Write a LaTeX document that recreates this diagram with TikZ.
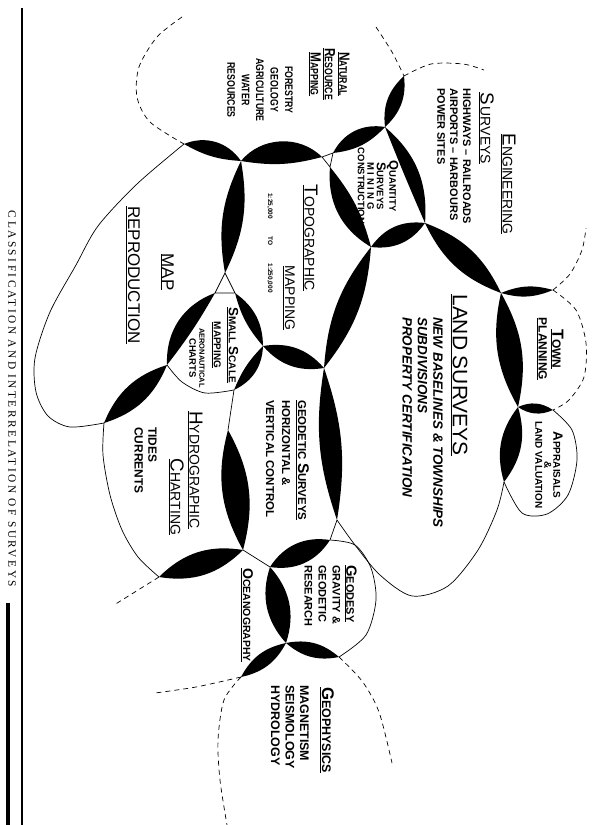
\documentclass[tikz,border=0pt]{standalone}
\usepackage{graphicx}
\usepackage{fontspec}
\setmainfont{Liberation Sans}
\newfontfamily\hand{Liberation Sans}[FakeStretch=0.8]
\newfontfamily\capfont{Liberation Serif}[LetterSpace=22]
\newcommand\initcap[2]{\scalebox{1.35}{#1}#2}
\begin{document}
\begin{tikzpicture}[x=1bp, y=-1bp,
    blob/.style={fill=black},
    rim/.style={line width=0.7bp},
    open rim/.style={line width=0.7bp, dash pattern=on 5bp off 4bp},
    lbl/.style={rotate=-90, inner sep=0pt, align=center, font=\bfseries\fontsize{11}{14}\selectfont},
    ttl/.style={rotate=-90, inner sep=0pt, align=center, font=\fontsize{14}{17}\selectfont}]
\useasboundingbox (0,0) rectangle (607,825);

\draw[line width=2bp] (22,8) -- (22,825);
\draw[line width=4bp] (8,603) -- (8,825);
\node[rotate=-90, font=\capfont\fontsize{11.4}{12}\selectfont] (caption) at (12,399) {CLASSIFICATION AND INTERRELATION OF SURVEYS};

\coordinate (nm) at (184,144);
\coordinate (nmt) at (241,161);
\coordinate (nt) at (322,157);
\coordinate (nq) at (333,153);
\coordinate (tq) at (330,167);
\coordinate (nqe) at (385,127);
\coordinate (ne) at (404,76);
\coordinate (qel) at (425,223);
\coordinate (qtl) at (371,247);
\coordinate (elt) at (501,293);
\coordinate (et) at (553,290);
\coordinate (lta) at (518,407);
\coordinate (ta) at (553,410);
\coordinate (la) at (504,482);
\coordinate (mts) at (225,273);
\coordinate (ms) at (215,293);
\coordinate (ts) at (235,293);
\coordinate (tsg) at (263,346);
\coordinate (tlg) at (324,368);
\coordinate (msh) at (167,365);
\coordinate (mh) at (104,423);
\coordinate (sgh) at (234,390);
\coordinate (gh) at (228,430);
\coordinate (gho) at (243,550);
\coordinate (glg) at (337,520);
\coordinate (gdl) at (330,540);
\coordinate (god) at (270,567);
\coordinate (odp) at (286,643);
\coordinate (dp) at (339,657);
\coordinate (ho) at (159,577);
\coordinate (op) at (241,677);

\draw[open rim] plot[smooth] coordinates {(182,17) (157,37) (139,67) (137,97) (150,122) (nm)};
\draw[open rim] plot[smooth] coordinates {(376,27) (392,52) (ne)};
\draw[open rim] plot[smooth] coordinates {(ne) (431,64) (463,64) (484,70)};
\draw[open rim] plot[smooth] coordinates {(et) (570,274) (582,250) (586,228)};
\draw[open rim] plot[smooth] coordinates {(et) (576,310) (586,343) (584,377) (569,400) (ta)};
\draw[rim] plot[smooth] coordinates {(ta) (572,430) (577,460) (568,495) (547,514) (522,513) (la)};
\draw[rim] plot[smooth] coordinates {(glg) (355,545) (380,575) (412,596) (448,586) (478,550) (497,510) (la)};
\draw[rim] plot[smooth] coordinates {(gdl) (355,545) (371,568) (376,600) (366,635) (dp)};
\draw[rim] plot[smooth] coordinates {(nm) (137,184) (98,226) (76,265) (50,312) (35,358) (36,392) (48,416) (70,427) (mh)};
\draw[rim] plot[smooth] coordinates {(mh) (103,455) (110,495) (122,530) (138,557) (ho)};
\draw[rim] plot[smooth] coordinates {(msh) (182,382) (205,393) (sgh)};
\draw[rim] (sgh) -- (gh);
\draw[rim] (gho) -- (god);
\draw[rim] (glg) -- (gdl);
\draw[rim] (ms) -- (mts) -- (ts) -- cycle;
\draw[rim] (nt) -- (nq) -- (tq) -- cycle;
\draw[open rim] (ho) -- (114,605);
\draw[open rim] plot[smooth] coordinates {(op) (196,687) (155,693)};
\draw[open rim] plot[smooth] coordinates {(op) (224,700) (218,740) (220,780) (227,825)};
\draw[open rim] plot[smooth] coordinates {(dp) (362,681) (379,712) (392,763)};

\fill[blob] (nm) to[bend left=39] (nmt) to[bend left=13] (nm);
\fill[blob] (nmt) to[bend left=48] (nt) to[bend left=12] (nmt);
\fill[blob] (nqe) to[bend left=27] (ne) to[bend left=27] (nqe);
\fill[blob] (nq) to[bend left=36] (nqe) to[bend left=20] (nq);
\fill[blob] (nqe) to[bend left=27] (qel) to[bend left=1] (nqe);
\fill[blob] (tq) to[bend left=12] (qtl) to[bend left=32] (tq);
\fill[blob] (qtl) to[bend left=31] (qel) to[bend left=31] (qtl);
\fill[blob] (qel) to[bend left=22] (elt) to[bend left=22] (qel);
\fill[blob] (elt) to[bend left=19] (et) to[bend left=19] (elt);
\fill[blob] (elt) to[bend left=21] (lta) to[bend left=21] (elt);
\fill[blob] (lta) to[bend left=29] (ta) to[bend left=29] (lta);
\fill[blob] (lta) to[bend left=27] (la) to[bend left=27] (lta);
\fill[blob] (qtl) to[bend left=17] (tlg) to[bend left=17] (qtl);
\fill[blob] (nmt) to[bend left=18] (mts) to[bend left=18] (nmt);
\fill[blob] (ms) to[bend left=4] (msh) to[bend left=36] (ms);
\fill[blob] (ts) to[bend left=27] (tsg) to[bend left=13] (ts);
\fill[blob] (tsg) to[bend left=29] (tlg) to[bend left=29] (tsg);
\fill[blob] (tsg) to[bend left=31] (sgh) to[bend left=11] (tsg);
\fill[blob] (msh) to[bend left=25] (mh) to[bend left=25] (msh);
\fill[blob] (gh) to[bend left=22] (gho) to[bend left=22] (gh);
\fill[blob] (tlg) to[bend left=14] (glg) to[bend left=14] (tlg);
\fill[blob] (gdl) to[bend left=33] (god) to[bend left=33] (gdl);
\fill[blob] (gho) to[bend left=27] (ho) to[bend left=27] (gho);
\fill[blob] (god) to[bend left=30] (odp) to[bend left=30] (god);
\fill[blob] (odp) to[bend left=26] (dp) to[bend left=26] (odp);
\fill[blob] (odp) to[bend left=25] (op) to[bend left=25] (odp);

\node[lbl, font=\hand\bfseries\fontsize{11}{14.5}\selectfont] (natural) at (329,74) {\underline{\initcap{N}{ATURAL}}\\\underline{\initcap{R}{ESOURCE}}\\\underline{\initcap{M}{APPING}}};
\node[lbl, font=\hand\bfseries\fontsize{11}{14.5}\selectfont] (natural-list) at (260,90) {FORESTRY\\GEOLOGY\\AGRICULTURE\\WATER\\RESOURCES};
\node[ttl] (engineering) at (508,184) {\underline{\initcap{E}{NGINEERING}}};
\node[ttl] (eng-surveys) at (486,128) {\underline{\initcap{S}{\,URVEYS}}};
\node[lbl, align=left, anchor=north west, font=\bfseries\fontsize{11}{13}\selectfont] (eng-list) at (471,88) {HIGHWAYS -- RAILROADS\\AIRPORTS -- HARBOURS\\POWER SITES};
\node[lbl, font=\bfseries\fontsize{9.5}{9.5}\selectfont] (quantity) at (378,186) {\initcap{Q}{UANTITY}\\\initcap{S}{URVEYS}\\M I N I N G\\CONSTRUCTION};
\node[ttl] (topo) at (310,238) {\underline{\initcap{T}{OPOGRAPHIC}}};
\node[ttl] (topo-mapping) at (289,298) {\underline{MAPPING}};
\node[lbl, font=\bfseries\fontsize{6.5}{6.5}\selectfont] (scales) at (270,243) {1:25,000\hspace{18pt}TO\hspace{18pt}1:250,000};
\node[ttl, font=\fontsize{17}{20}\selectfont] (map) at (167,272) {\underline{MAP}};
\node[ttl, font=\fontsize{17}{20}\selectfont] (reproduction) at (133,275) {\underline{REPRODUCTION}};
\node[ttl, font=\fontsize{21}{24}\selectfont] (land) at (459,375) {\underline{LAND SURVEYS}};
\node[lbl, align=left, anchor=north west, font=\bfseries\itshape\fontsize{13.5}{15.5}\selectfont] (land-list) at (443,317) {NEW BASELINES \& TOWNSHIPS\\SUBDIVISIONS\\PROPERTY CERTIFICATION};
\node[lbl, font=\bfseries\fontsize{12}{14}\selectfont] (town) at (550,349) {\underline{\initcap{T}{OWN}}\\\underline{PLANNING}};
\node[lbl, font=\bfseries\fontsize{10}{9}\selectfont] (appraisals) at (549,465) {\initcap{A}{PPRAISALS}\\\&\\LAND VALUATION};
\node[lbl, font=\bfseries\fontsize{10}{15}\selectfont] (small) at (225,345) {\underline{\initcap{S}{MALL} \initcap{S}{CALE}}\\\underline{MAPPING}};
\node[lbl, font=\bfseries\fontsize{7.5}{10}\selectfont] (aero) at (197,358) {AERONAUTICAL\\{\fontsize{9.5}{10}\selectfont CHARTS}};
\node[lbl, align=left, anchor=north west, font=\bfseries\fontsize{11.5}{16}\selectfont] (geodetic) at (309,400) {\underline{GEODETIC \initcap{S}{URVEYS}}\\HORIZONTAL \&\\VERTICAL CONTROL};
\node[ttl] (hydro) at (195,470) {\underline{\initcap{H}{YDROGRAPHIC}}};
\node[ttl] (charting) at (176,497) {\underline{\initcap{C}{HARTING}}};
\node[lbl, align=left, anchor=north west, font=\bfseries\fontsize{12}{14}\selectfont] (hydro-list) at (157,427) {TIDES\\CURRENTS};
\node[lbl, align=left, anchor=north west] (geodesy) at (357,565) {\underline{\initcap{G}{EODESY}}\\GRAVITY \&\\GEODETIC\\RESEARCH};
\node[lbl, font=\bfseries\fontsize{10.5}{12}\selectfont] (ocean) at (247,615) {\underline{\initcap{O}{CEANOGRAPHY}}};
\node[lbl, font=\bfseries\fontsize{12.5}{14}\selectfont] (geophysics) at (327,730) {\underline{\initcap{G}{EOPHYSICS}}};
\node[lbl, align=left, anchor=north west, font=\bfseries\fontsize{12.5}{14.5}\selectfont] (geophysics-list) at (309,685) {MAGNETISM\\SEISMOLOGY\\HYDROLOGY};
\end{tikzpicture}
\end{document}
